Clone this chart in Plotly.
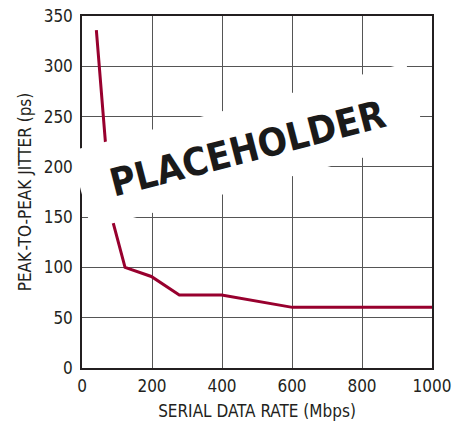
import plotly.graph_objects as go

# Data
rate_mbps = [41, 84, 123, 198, 278, 399, 601, 1000]
jitter_ps = [336, 151, 100, 91, 72.6, 72.6, 60.3, 60.3]

x_ticks = [0, 200, 400, 600, 800, 1000]
y_ticks = [0, 50, 100, 150, 200, 250, 300, 350]

W, H = 468, 423
ML, MR, MT, MB = 82, 36, 16, 55
PW, PH = W - ML - MR, H - MT - MB

FONT = "DejaVu Sans Condensed, DejaVu Sans, sans-serif"
LINE_COLOR = "#98002E"


def px_to_paper(px, py):
    return (px - ML) / PW, 1 - (py - MT) / PH


# placeholder box corners (pixel positions in the picture)
corners = [(70.5, 151), (406, 63), (426.5, 141), (91, 229)]
pc = [px_to_paper(*c) for c in corners]
path = "M " + " L ".join(f"{a:.5f},{b:.5f}" for a, b in pc) + " Z"
cx, cy = px_to_paper(247, 148)

fig = go.Figure()
fig.add_trace(go.Scatter(
    x=rate_mbps, y=jitter_ps, mode="lines",
    line=dict(color=LINE_COLOR, width=3),
    hoverinfo="skip", showlegend=False,
))

axis_common = dict(
    showline=True, mirror=True, linecolor="#231F20", linewidth=1.5,
    showgrid=True, gridcolor="#555555", gridwidth=1,
    zeroline=False, ticks="", automargin=False,
    tickfont=dict(family=FONT, size=17, color="#231F20"),
    title_font=dict(family=FONT, size=17, color="#231F20"),
)

fig.update_xaxes(
    range=[0, 1000], tickvals=x_ticks, ticktext=[str(v) for v in x_ticks],
    title_text="SERIAL DATA RATE (Mbps)", title_standoff=10,
    ticklabelstandoff=2,
    **axis_common,
)
fig.update_yaxes(
    range=[0, 350], tickvals=y_ticks, ticktext=[str(v) for v in y_ticks],
    title_text="PEAK\u200a-TO-PEAK JITTER (ps)", title_standoff=8,
    ticklabelstandoff=4,
    **axis_common,
)

fig.add_shape(type="path", xref="paper", yref="paper", path=path,
              fillcolor="white", line=dict(width=0), layer="above")

fig.add_annotation(
    x=cx, y=cy, xref="paper", yref="paper", text="<b>PLACEHOLDER</b>",
    showarrow=False, textangle=-14.5, xanchor="center", yanchor="middle",
    font=dict(family=FONT, size=38.5, color="#1a1a1a"),
)

fig.update_layout(
    width=W, height=H,
    margin=dict(l=ML, r=MR, t=MT, b=MB),
    paper_bgcolor="white", plot_bgcolor="white",
)

fig.write_html("out.html", config={"displayModeBar": False},
               post_script="document.body.style.margin='0';")
